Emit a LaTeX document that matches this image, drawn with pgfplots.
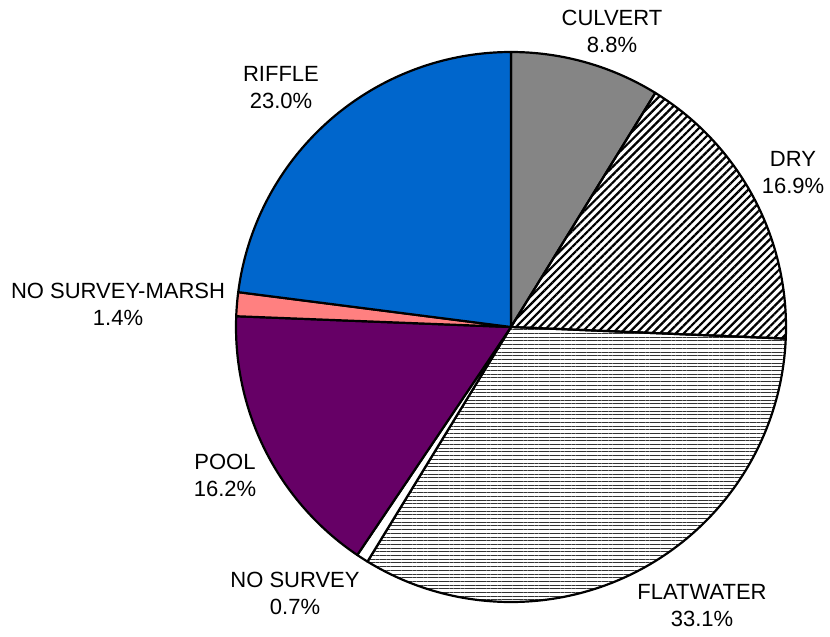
\documentclass[border=0pt]{standalone}
\usepackage{pgfplots}
\pgfplotsset{compat=1.18}
\usepackage{pgfplotstable}
\usepackage{fontspec}
\setmainfont{Liberation Sans}
\usetikzlibrary{patterns.meta}
\definecolor{poolc}{HTML}{660066}
\definecolor{marshc}{HTML}{FF8080}
\definecolor{rifflec}{HTML}{0066CC}
% share of each habitat type (percent), clockwise from 12 o'clock
\pgfplotstableread{
label          pct
CULVERT        8.8
DRY            16.9
FLATWATER      33.1
NOSURVEY       0.7
POOL           16.2
NOSURVEYMARSH  1.4
RIFFLE         23.0
}\pietable
\begin{document}
\begin{tikzpicture}
\def\cx{511}\def\cy{327}\def\r{275}
\pgfmathsetmacro\tot{100.1}
\pgfmathsetmacro\aA{-90}
\pgfmathsetmacro\aB{\aA+360*8.8/\tot}
\pgfmathsetmacro\aC{\aB+360*16.9/\tot}
\pgfmathsetmacro\aD{\aC+360*33.1/\tot}
\pgfmathsetmacro\aE{\aD+360*0.7/\tot}
\pgfmathsetmacro\aF{\aE+360*16.2/\tot}
\pgfmathsetmacro\aG{\aF+360*1.4/\tot}
\pgfmathsetmacro\aH{\aG+360*23.0/\tot}
\useasboundingbox (0,0) rectangle (830pt,637pt);
\begin{axis}[
  at={(0,0)}, anchor=south west,
  scale only axis, width=830pt, height=637pt,
  xmin=0, xmax=830, ymin=0, ymax=637, y dir=reverse,
  hide axis, clip=false,
  every axis plot/.append style={draw=black, line width=2.2pt, line join=round, samples=90, smooth},
]
\addplot[fill=black!48, domain=\aA:\aB] ({\cx+\r*cos(x)},{\cy+\r*sin(x)}) -- (axis cs:\cx,\cy) -- cycle;
\addplot[pattern={Lines[angle=45,distance=5.6pt,line width=2.2pt]}, domain=\aB:\aC] ({\cx+\r*cos(x)},{\cy+\r*sin(x)}) -- (axis cs:\cx,\cy) -- cycle;
\addplot[pattern={Lines[angle=0,distance=3.7pt,line width=1pt]}, pattern color=black!80, domain=\aC:\aD] ({\cx+\r*cos(x)},{\cy+\r*sin(x)}) -- (axis cs:\cx,\cy) -- cycle;
\addplot[fill=white, domain=\aD:\aE] ({\cx+\r*cos(x)},{\cy+\r*sin(x)}) -- (axis cs:\cx,\cy) -- cycle;
\addplot[fill=poolc, domain=\aE:\aF] ({\cx+\r*cos(x)},{\cy+\r*sin(x)}) -- (axis cs:\cx,\cy) -- cycle;
\addplot[fill=marshc, domain=\aF:\aG] ({\cx+\r*cos(x)},{\cy+\r*sin(x)}) -- (axis cs:\cx,\cy) -- cycle;
\addplot[fill=rifflec, domain=\aG:\aH] ({\cx+\r*cos(x)},{\cy+\r*sin(x)}) -- (axis cs:\cx,\cy) -- cycle;
\tikzset{lbl/.style={align=center, font=\fontsize{22}{27}\selectfont, inner sep=0pt}}
\node[lbl] at (axis cs:612,31) {CULVERT\\8.8\%};
\node[lbl] at (axis cs:793,173) {DRY\\16.9\%};
\node[lbl] at (axis cs:702,606) {FLATWATER\\33.1\%};
\node[lbl] at (axis cs:295,593) {NO SURVEY\\0.7\%};
\node[lbl] at (axis cs:225,475) {POOL\\16.2\%};
\node[lbl] at (axis cs:118,304) {NO SURVEY-MARSH\\1.4\%};
\node[lbl] at (axis cs:281,88) {RIFFLE\\23.0\%};
\end{axis}
\end{tikzpicture}
\end{document}
